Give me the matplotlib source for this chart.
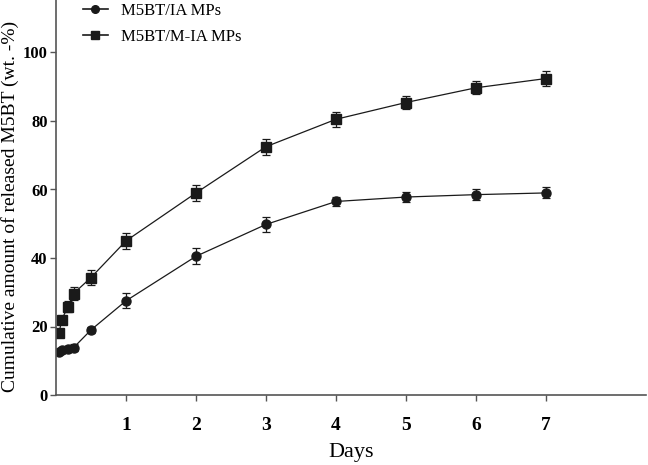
import matplotlib
matplotlib.use("Agg")
import matplotlib.pyplot as plt
from matplotlib.lines import Line2D

days = [1/24, 2/24, 4/24, 6/24, 0.5, 1, 2, 3, 4, 5, 6, 7]
ia_vals = [12.6, 13.0, 13.4, 13.8, 19.0, 27.5, 40.5, 49.8, 56.5, 57.8, 58.5, 59.0]
ia_err = [0.6, 0.7, 0.8, 1.0, 1.0, 2.2, 2.3, 2.3, 1.3, 1.5, 1.6, 1.6]
mia_vals = [18.0, 22.0, 25.7, 29.6, 34.3, 45.0, 59.0, 72.5, 80.5, 85.4, 89.7, 92.4]
mia_err = [1.0, 1.2, 1.6, 2.0, 2.2, 2.4, 2.3, 2.3, 2.2, 1.8, 1.9, 2.3]
labels = ["M5BT/IA MPs", "M5BT/M-IA MPs"]
xticks = [1, 2, 3, 4, 5, 6, 7]
yticks = [0, 20, 40, 60, 80, 100]

plt.rcParams['font.family'] = ['Liberation Serif', 'DejaVu Serif']

fig = plt.figure(figsize=(6.48, 4.65), dpi=100)
ax = fig.add_axes([56/648, 70/465, 590/648, 395/465])

col = '#1a1a1a'
ax.errorbar(days, ia_vals, yerr=ia_err, color=col, marker='o', markersize=6.5,
            lw=0.9, elinewidth=0.9, capsize=3, capthick=0.9)
ax.errorbar(days, mia_vals, yerr=mia_err, color=col, marker='s', markersize=7,
            lw=0.9, elinewidth=0.9, capsize=3, capthick=0.9)

ax.set_xlim(0, 590/70)
ax.set_ylim(0, 395/3.425)
ax.set_xticks(xticks)
ax.set_yticks(yticks)
ax.set_xticklabels([str(t) for t in xticks], fontsize=14, fontweight='bold')
ax.set_yticklabels([str(t) for t in yticks], fontsize=12, fontweight='bold')
for s in ['top', 'right']:
    ax.spines[s].set_visible(False)
for s in ['left', 'bottom']:
    ax.spines[s].set_color('#555555')
    ax.spines[s].set_linewidth(1.2)
ax.tick_params(axis='both', direction='out', length=4, width=1, color='#555555')
ax.tick_params(axis='x', pad=12)
ax.tick_params(axis='y', pad=2)

ax.set_xlabel('Days', fontsize=16, labelpad=6)
ax.set_ylabel('Cumulative amount of released M5BT (wt. -%)', fontsize=14)
ax.yaxis.set_label_coords(-37/590, 0.478)

handles = [Line2D([], [], color=col, marker='o', markersize=5.5, lw=1.2),
           Line2D([], [], color=col, marker='s', markersize=6, lw=1.2)]
ax.legend(handles, labels, loc='upper left', bbox_to_anchor=(0.02, 1.03), frameon=False,
          fontsize=12, handlelength=1.5, handletextpad=0.8, labelspacing=0.6)

fig.savefig('out.png', dpi=100)
